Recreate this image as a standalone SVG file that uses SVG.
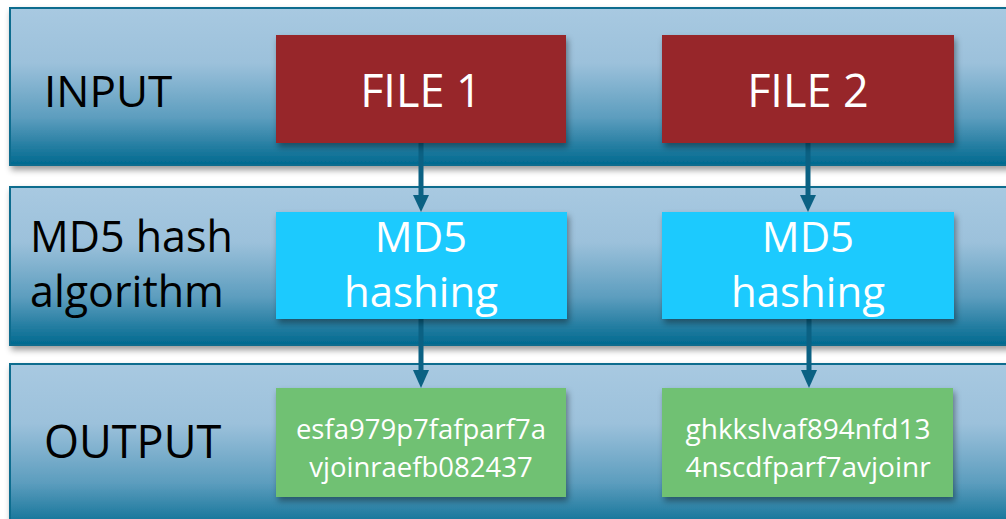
<svg xmlns="http://www.w3.org/2000/svg" width="1006" height="519" viewBox="0 0 1006 519">
<defs>
<linearGradient id="band" x1="0" y1="0" x2="0" y2="1">
<stop offset="0" stop-color="#A8C9E1"/>
<stop offset="0.35" stop-color="#9CC1DB"/>
<stop offset="0.7" stop-color="#5C9DBE"/>
<stop offset="1" stop-color="#00698F"/>
</linearGradient>
<filter id="sh" x="-10%" y="-10%" width="130%" height="140%">
<feDropShadow dx="2" dy="4" stdDeviation="3" flood-color="#000" flood-opacity="0.4"/>
</filter>
</defs>
<style>
.band{fill:url(#band);stroke:#0E6C8E;stroke-width:2;filter:url(#sh)}
.lbl{font-family:"Open Sans","DejaVu Sans",sans-serif;fill:#000}
.wt{font-family:"Open Sans","DejaVu Sans",sans-serif;fill:#fff;text-anchor:middle}
.red{fill:#972629;filter:url(#sh)}
.cyan{fill:#1ACAFE;filter:url(#sh)}
.grn{fill:#70C173;filter:url(#sh)}
.conn line{stroke:#0B6183;stroke-width:5}
.conn path{fill:#0B6183}
</style>
<rect width="1006" height="519" fill="#fff"/>
<g id="band-input"><rect class="band" x="10" y="8" width="1010" height="157"/><text class="lbl" x="44" y="107" font-size="44">INPUT</text></g>
<g id="band-md5"><rect class="band" x="10" y="187" width="1010" height="158"/><text class="lbl" x="30" y="252" font-size="43">MD5 hash</text><text class="lbl" x="30" y="307" font-size="43">algorithm</text></g>
<g id="band-output"><rect class="band" x="10" y="364" width="1010" height="170"/><text class="lbl" x="44" y="458" font-size="45">OUTPUT</text></g>
<g class="conn" id="connectors">
<line x1="421" y1="143" x2="421" y2="197"/><path d="M413,195 L429,195 L421,212 Z"/>
<line x1="808" y1="143" x2="808" y2="197"/><path d="M800,195 L816,195 L808,212 Z"/>
<line x1="421" y1="319" x2="421" y2="372"/><path d="M413,370 L429,370 L421,388 Z"/>
<line x1="809" y1="319" x2="809" y2="372"/><path d="M801,370 L817,370 L809,388 Z"/>
</g>
<g id="file1"><rect class="red" x="276" y="35" width="290" height="108"/><text class="wt" x="421" y="107" font-size="45">FILE 1</text></g>
<g id="file2"><rect class="red" x="662" y="35" width="292" height="108"/><text class="wt" x="808" y="107" font-size="45">FILE 2</text></g>
<g id="md5a"><rect class="cyan" x="276" y="212" width="291" height="107"/><text class="wt" x="421" y="252" font-size="42">MD5</text><text class="wt" x="421" y="307" font-size="42">hashing</text></g>
<g id="md5b"><rect class="cyan" x="662" y="212" width="292" height="107"/><text class="wt" x="808" y="252" font-size="42">MD5</text><text class="wt" x="808" y="307" font-size="42">hashing</text></g>
<g id="out1"><rect class="grn" x="276" y="388" width="290" height="109"/><text class="wt" x="421" y="439" font-size="27.5">esfa979p7fafparf7a</text><text class="wt" x="421" y="477" font-size="27.5">vjoinraefb082437</text></g>
<g id="out2"><rect class="grn" x="662" y="388" width="291" height="109"/><text class="wt" x="808" y="439" font-size="28">ghkkslvaf894nfd13</text><text class="wt" x="808" y="477" font-size="28">4nscdfparf7avjoinr</text></g>
</svg>
